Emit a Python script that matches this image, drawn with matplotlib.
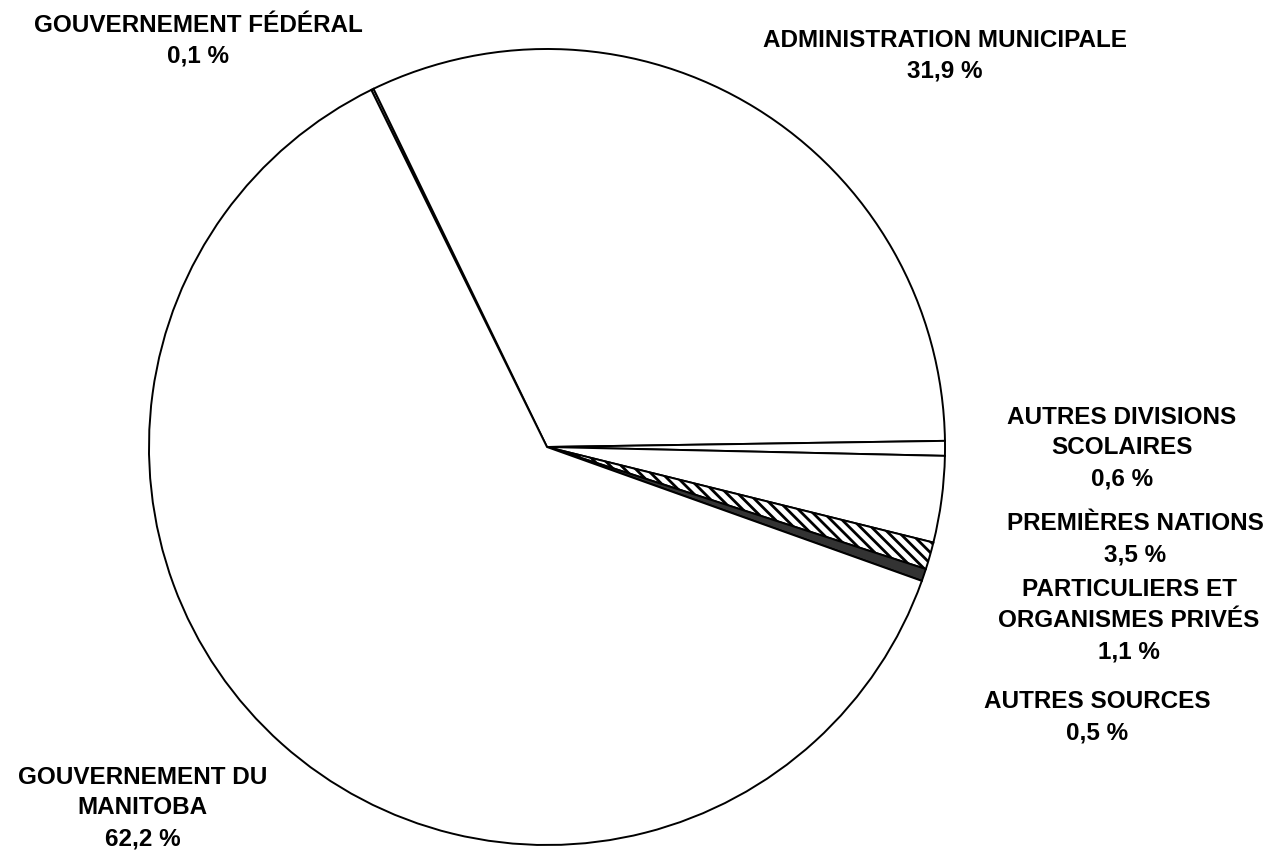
import matplotlib
matplotlib.use("Agg")
import matplotlib.pyplot as plt

labels = ["GOUVERNEMENT FÉDÉRAL", "ADMINISTRATION MUNICIPALE", "AUTRES DIVISIONS\nSCOLAIRES",
          "PREMIÈRES NATIONS", "PARTICULIERS ET\nORGANISMES PRIVÉS", "AUTRES SOURCES",
          "GOUVERNEMENT DU\nMANITOBA"]
values = [0.1, 31.9, 0.6, 3.5, 1.1, 0.5, 62.2]
pct_text = ["0,1 %", "31,9 %", "0,6 %", "3,5 %", "1,1 %", "0,5 %", "62,2 %"]
colors = ["white", "white", "white", "white", "white", "#333333", "white"]
hatches = [None, None, None, None, "\\\\\\", None, None]

W, H = 1270, 850
fig = plt.figure(figsize=(W / 100, H / 100), dpi=100)
cx, cy, r = 547, 447, 400
ax = fig.add_axes([(cx - r) / W, (H - cy - r) / H, 2 * r / W, 2 * r / H])
plt.rcParams['hatch.linewidth'] = 2.0
wedges, _ = ax.pie(values, colors=colors, startangle=116.2, counterclock=False,
                   wedgeprops=dict(edgecolor="black", linewidth=1.4))
for w, h in zip(wedges, hatches):
    if h:
        w.set_hatch(h)
ax.set_xlim(-1.005, 1.005)
ax.set_ylim(-1.005, 1.005)
ax.set_aspect("equal")
ax.axis("off")

# label positions in pixels (center x, center y of first line)
pos = [(198, 23), (945, 38.5), (1122, 415), (1135, 522), (1129, 588), (1097, 700), (142.5, 775)]
spacing = 30.8
cap = 17
for lab, p, (x, y) in zip(labels, pct_text, pos):
    lines = (lab + "\n" + p).split("\n")
    for i, ln in enumerate(lines):
        yc = y + i * spacing
        fig.text(x / W, 1 - (yc + cap / 2) / H, ln, ha="center", va="baseline",
                 fontsize=17.5, fontweight="bold", family="Liberation Sans")

fig.savefig("out.png", dpi=100, facecolor="white")
